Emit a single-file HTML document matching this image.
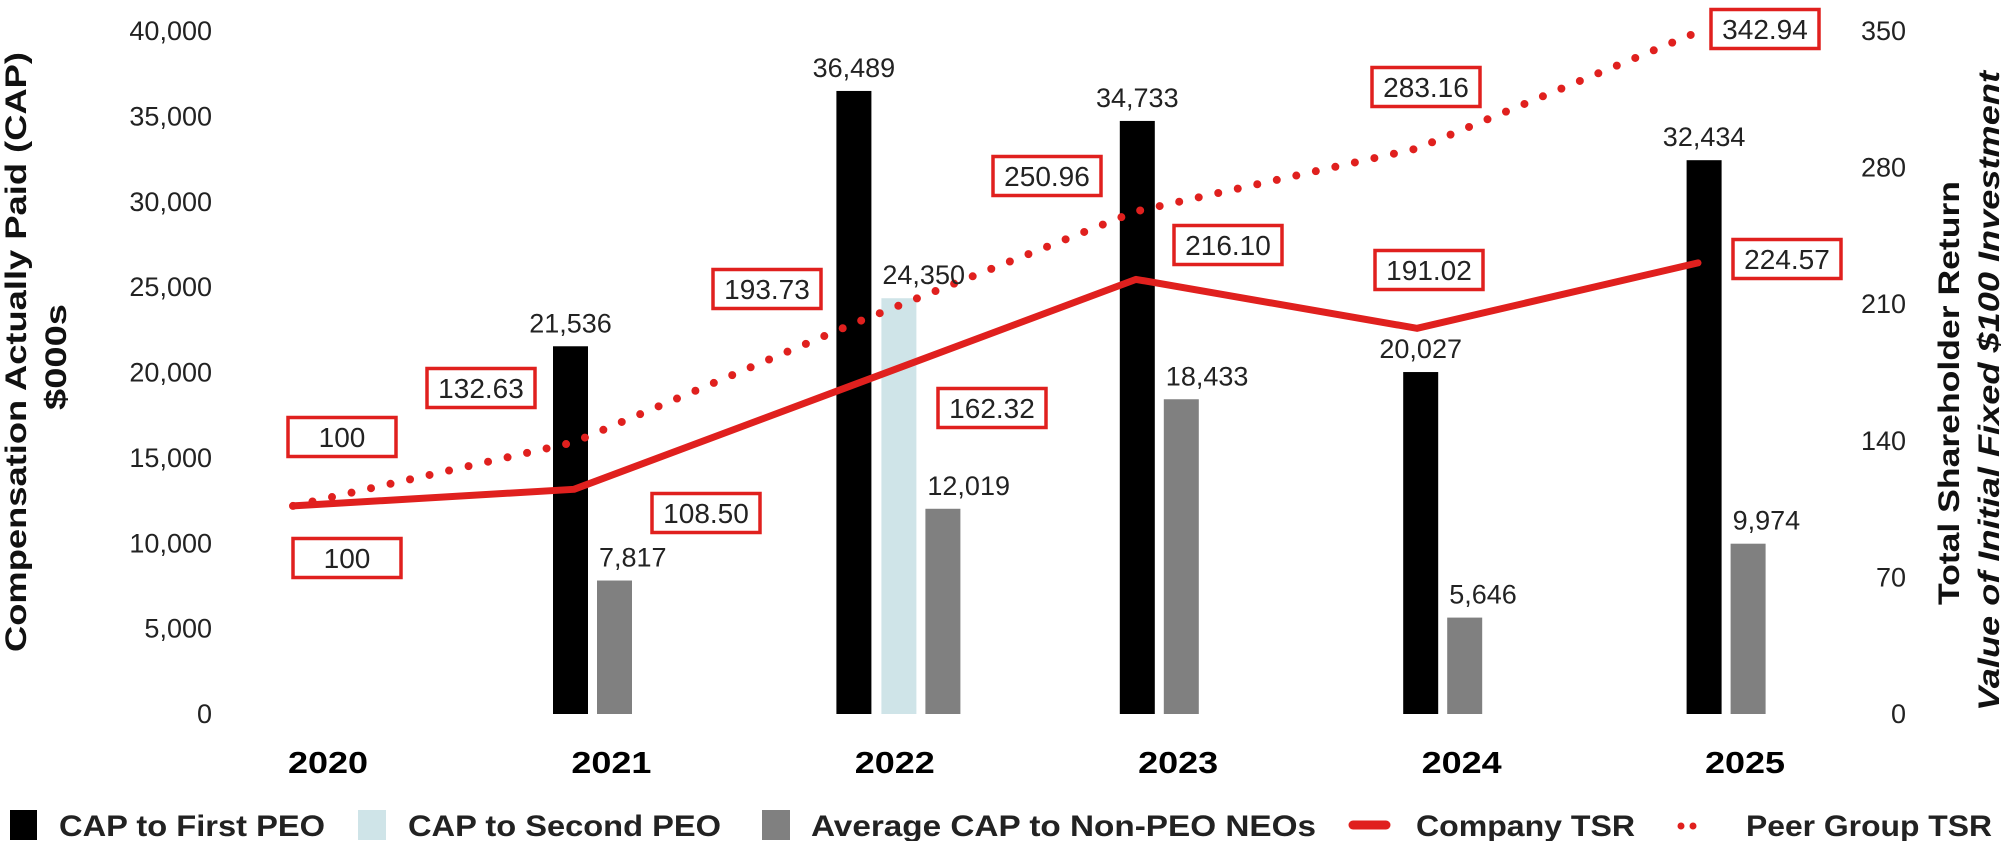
<!DOCTYPE html>
<html><head><meta charset="utf-8"><style>
html,body{margin:0;padding:0;background:#fff;}
svg{display:block;font-family:"Liberation Sans",Arial,sans-serif;}
</style></head><body>
<svg id="chart" width="2005" height="841" viewBox="0 0 2005 841" xmlns="http://www.w3.org/2000/svg">
<g id="axes"></g>
<g id="bars"></g>
<g id="lines"></g>
<g id="labels"></g>
<g id="legend"></g>
</svg>
<script>
const years = ["2020","2021","2022","2023","2024","2025"];
const capFirst = [null, 21536, 36489, 34733, 20027, 32434];
const capSecond = [null, null, 24350, null, null, null];
const capNonPeo = [null, 7817, 12019, 18433, 5646, 9974];
const companyTsr = [100, 108.50, 162.32, 216.10, 191.02, 224.57];
const peerTsr = [100, 132.63, 193.73, 250.96, 283.16, 342.94];
const leftTicks = [0, 5000, 10000, 15000, 20000, 25000, 30000, 35000, 40000];
const rightTicks = [0, 70, 140, 210, 280, 350];

const NS = "http://www.w3.org/2000/svg";
const RED = "#e0201e";
function mk(tag, attrs, parent, text){
  const e = document.createElementNS(NS, tag);
  for (const k in attrs) e.setAttribute(k, attrs[k]);
  if (text !== undefined) e.textContent = text;
  parent.appendChild(e);
  return e;
}
const fmt = v => v.toLocaleString("en-US");
// axis functions
const yLeft = v => 714 - v * (683 / 40000);
const yRight = v => 714 - v * (683 / 350);
const yLine = v => 701 - v * 1.951;
const xGroup = i => 553 + 283.4 * (i - 1);   // left edge of first-PEO bar
const xLine = i => 293 + 281 * i;
const xYear = i => 328 + 283.4 * i;
const BW = 35;

const axes = document.getElementById("axes");
leftTicks.forEach(t => {
  const e = mk("text", {x:212, y:yLeft(t)+9, "text-anchor":"end", "font-size":27, fill:"#222"}, axes, fmt(t));
  
  
});
rightTicks.forEach(t => {
  const e = mk("text", {x:1906, y:yRight(t)+9, "text-anchor":"end", "font-size":27, fill:"#222"}, axes, String(t));
  
  
});
years.forEach((y, i) => {
  const e = mk("text", {x:xYear(i), y:773, "text-anchor":"middle", "font-size":31, "font-weight":"bold", fill:"#000", textLength:80, lengthAdjust:"spacingAndGlyphs"}, axes, y);
  
  
});
let t1 = mk("text", {transform:"translate(26,352) rotate(-90)", "text-anchor":"middle", "font-size":30, "font-weight":"bold", fill:"#111", textLength:600, lengthAdjust:"spacingAndGlyphs"}, axes, "Compensation Actually Paid (CAP)");


let t2 = mk("text", {transform:"translate(66,357) rotate(-90)", "text-anchor":"middle", "font-size":30, "font-weight":"bold", fill:"#111", textLength:106, lengthAdjust:"spacingAndGlyphs"}, axes, "$000s");


let t3 = mk("text", {transform:"translate(1959,393) rotate(-90)", "text-anchor":"middle", "font-size":30, "font-weight":"bold", fill:"#111", textLength:424, lengthAdjust:"spacingAndGlyphs"}, axes, "Total Shareholder Return");


let t4 = mk("text", {transform:"translate(1999,391) rotate(-90)", "text-anchor":"middle", "font-size":30, "font-weight":"bold", "font-style":"italic", fill:"#111", textLength:640, lengthAdjust:"spacingAndGlyphs"}, axes, "Value of Initial Fixed $100 Investment");



const bars = document.getElementById("bars");
const labels = document.getElementById("labels");
years.forEach((y, i) => {
  const gx = xGroup(i);
  if (capFirst[i] != null) {
    const top = yLeft(capFirst[i]);
    const r = mk("rect", {x:gx, y:top, width:BW, height:714-top, fill:"#000"}, bars);
    
    
    const l = mk("text", {x:gx+BW/2, y:top-14, "text-anchor":"middle", "font-size":27, fill:"#222"}, labels, fmt(capFirst[i]));
    
    
  }
  let nx = gx + 44;
  if (capSecond[i] != null) {
    const top = yLeft(capSecond[i]);
    const r = mk("rect", {x:gx+45, y:top, width:BW, height:714-top, fill:"#cfe4e8"}, bars);
    
    
    const l = mk("text", {x:gx+46, y:top-14, "font-size":27, fill:"#222"}, labels, fmt(capSecond[i]));
    
    
    nx = gx + 89;
  }
  if (capNonPeo[i] != null) {
    const top = yLeft(capNonPeo[i]);
    const r = mk("rect", {x:nx, y:top, width:BW, height:714-top, fill:"#808080"}, bars);
    
    
    const l = mk("text", {x:nx+2, y:top-14, "font-size":27, fill:"#222"}, labels, fmt(capNonPeo[i]));
    
    
  }
});

const lines = document.getElementById("lines");
const pp = peerTsr.map((v, i) => xLine(i) + "," + yLine(v)).join(" ");
const peer = mk("polyline", {points:pp, fill:"none", stroke:RED, "stroke-width":8, "stroke-linecap":"round", "stroke-dasharray":"0 20"}, lines);


const cp = companyTsr.map((v, i) => xLine(i) + "," + yLine(v)).join(" ");
const comp = mk("polyline", {points:cp, fill:"none", stroke:RED, "stroke-width":7, "stroke-linecap":"round", "stroke-linejoin":"round"}, lines);



// annotation box centres (layout only)
const peerBoxCenters = [[342,437],[481,388],[767,289],[1047,176],[1426,87],[1765,29]];
const compBoxCenters = [[347,558],[706,513],[992,408],[1228,245],[1429,270],[1787,259]];
function box(c, v, name){
  const g = mk("g", {}, labels);
  
  
  mk("rect", {x:c[0]-54, y:c[1]-19.5, width:108, height:39, fill:"#fff", stroke:RED, "stroke-width":3.5}, g);
  mk("text", {x:c[0], y:c[1]+10, "text-anchor":"middle", "font-size":28, fill:"#222"}, g, String(v));
}
peerTsr.forEach((v, i) => box(peerBoxCenters[i], v === 100 ? "100" : v.toFixed(2), 'peer-tsr-label-' + years[i]));
companyTsr.forEach((v, i) => box(compBoxCenters[i], v === 100 ? "100" : v.toFixed(2), 'company-tsr-label-' + years[i]));

const legend = document.getElementById("legend");
function legText(x, w, s, name){
  const e = mk("text", {x:x, y:836, "font-size":30, "font-weight":"bold", fill:"#222", textLength:w, lengthAdjust:"spacingAndGlyphs"}, legend, s);
  
  
}
let s;
s = mk("rect", {x:10, y:810, width:27, height:30, fill:"#000"}, legend);
 
legText(59, 266, "CAP to First PEO", 'legend-label-first-peo');
s = mk("rect", {x:358, y:810, width:28, height:30, fill:"#cfe4e8"}, legend);
 
legText(408, 313, "CAP to Second PEO", 'legend-label-second-peo');
s = mk("rect", {x:762, y:810, width:28, height:30, fill:"#808080"}, legend);
 
legText(811, 505, "Average CAP to Non-PEO NEOs", 'legend-label-non-peo');
s = mk("line", {x1:1353, y1:825, x2:1386, y2:825, stroke:RED, "stroke-width":9, "stroke-linecap":"round"}, legend);
 
legText(1416, 219, "Company TSR", 'legend-label-company-tsr');
s = mk("line", {x1:1681, y1:826, x2:1705, y2:826, stroke:RED, "stroke-width":7, "stroke-linecap":"round", "stroke-dasharray":"0 12"}, legend);
 
legText(1746, 246, "Peer Group TSR", 'legend-label-peer-tsr');
</script>
</body></html>
